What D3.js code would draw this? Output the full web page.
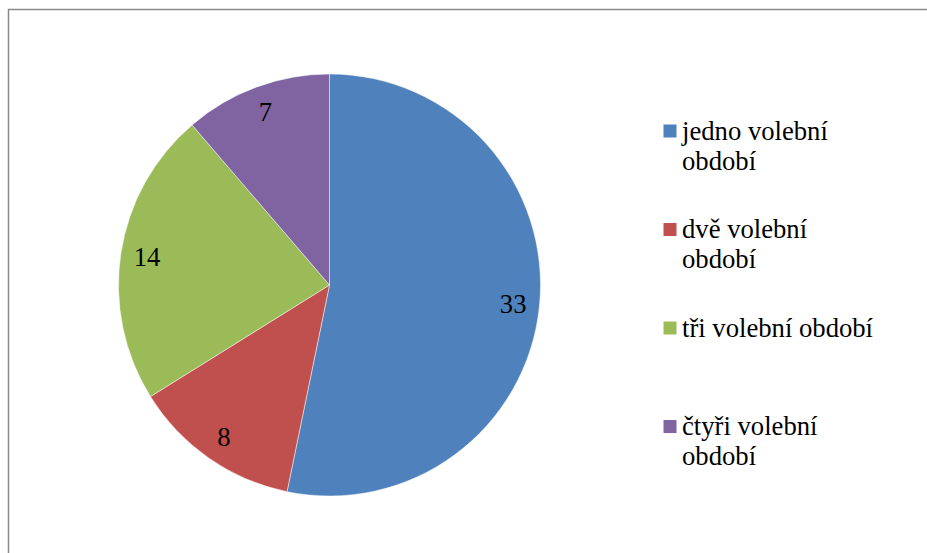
<!DOCTYPE html>
<html>
<head>
<meta charset="utf-8">
<script src="https://cdn.jsdelivr.net/npm/d3@7"></script>
<style>
  html, body { margin: 0; padding: 0; background: #ffffff; }
  svg { display: block; }
</style>
</head>
<body>
<svg id="chart" width="927" height="553"></svg>
<script>
const categories = ["jedno volební období", "dvě volební období", "tři volební období", "čtyři volební období"];
const values = [33, 8, 14, 7];
const colors = ["#4F81BD", "#C0504D", "#9BBB59", "#8064A2"];

const FONT = '"Liberation Serif"';
const W = 927, H = 553;
const svg = d3.select("#chart");

// chart frame
svg.append("rect")
  .attr("x", 8.5).attr("y", 9.5)
  .attr("width", W + 20).attr("height", H + 20)
  .attr("fill", "none")
  .attr("stroke", "#8a8a8a")
  .attr("stroke-width", 1.5);

const cx = 329.5, cy = 285, r = 211;
const data = categories.map((c, i) => ({ name: c, value: values[i], color: colors[i] }));

const pie = d3.pie().value(d => d.value).sort(null);
const arcs = pie(data);
const arc = d3.arc().innerRadius(0).outerRadius(r);
const labelArc = d3.arc().innerRadius(r * 0.875).outerRadius(r * 0.875);

const g = svg.append("g").attr("transform", `translate(${cx},${cy})`);
g.selectAll("path.slice")
  .data(arcs)
  .enter().append("path")
  .attr("class", "slice")
  .attr("d", arc)
  .attr("fill", d => d.data.color)
  .attr("stroke", "#ffffff")
  .attr("stroke-opacity", 0.6)
  .attr("stroke-width", 0.8);

// value labels (appended directly to svg)
arcs.forEach(d => {
  const [lx, ly] = labelArc.centroid(d);
  svg.append("text")
    .attr("x", cx + lx).attr("y", cy + ly)
    .attr("text-anchor", "middle")
    .attr("dy", "0.34em")
    .style("font-family", FONT, "important")
    .style("font-size", "26.67px")
    .style("fill", "#000")
    .text(d.data.value);
});

// legend
const legX = 663.5, legTextX = 682, legY0 = 139.5, legStep = 98.5, lineH = 30, maxW = 200;
data.forEach((d, i) => {
  const by = legY0 + i * legStep;
  svg.append("rect")
    .attr("x", legX).attr("y", by - 15)
    .attr("width", 13).attr("height", 13)
    .attr("fill", d.color);
  const words = d.name.split(" ");
  const lines = [];
  let line = [];
  const probe = svg.append("text")
    .style("font-family", FONT, "important")
    .style("font-size", "26.67px")
    .attr("visibility", "hidden");
  words.forEach(w => {
    const trial = line.concat([w]);
    probe.text(trial.join(" "));
    if (probe.node().getComputedTextLength() > maxW && line.length > 0) {
      lines.push(line.join(" "));
      line = [w];
    } else {
      line = trial;
    }
  });
  lines.push(line.join(" "));
  probe.remove();
  lines.forEach((ln, k) => {
    svg.append("text")
      .attr("x", legTextX).attr("y", by + k * lineH)
      .style("font-family", FONT, "important")
      .style("font-size", "26.67px")
      .style("fill", "#000")
      .text(ln);
  });
});
</script>
</body>
</html>
